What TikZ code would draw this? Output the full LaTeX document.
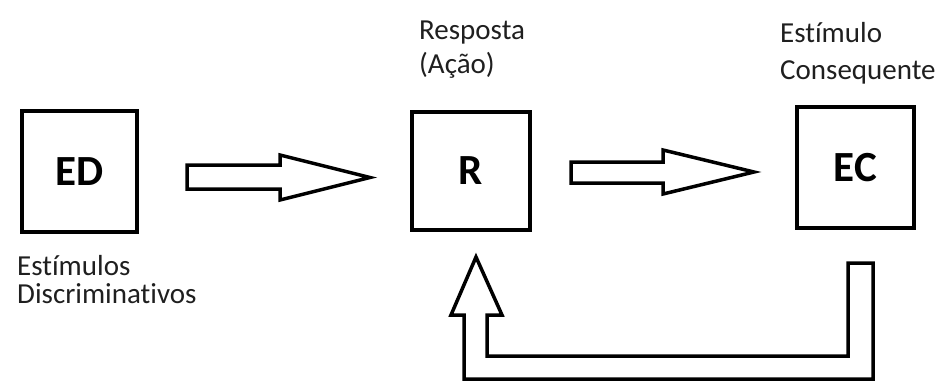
\documentclass[tikz,border=0pt]{standalone}
\usepackage{fontspec}
\setmainfont[Ligatures=NoCommon]{Carlito}
\begin{document}
\begin{tikzpicture}[x=1pt,y=-1pt,
  box/.style={draw=black,line width=4pt,minimum width=#1,inner sep=0pt,font=\fontsize{43}{50}\selectfont\bfseries},
  lbl/.style={anchor=base west,inner sep=0pt,text=black!88,font=\fontsize{29}{29}\selectfont},
  blockarrow/.style={draw=black,line width=3.5pt,line join=miter,fill=white}]
\useasboundingbox (0,0) rectangle (942,383);
\node[box=115pt,minimum height=121pt] (ED) at (79.5,171.5) {ED};
\node[box=118pt,minimum height=118pt] (R) at (471,171) {R};
\node[box=117pt,minimum height=121pt] (EC) at (855.5,167.5) {EC};
\node[lbl] (ed1) at (17,275) {Estímulos};
\node[lbl] (ed2) at (17,303) {Discriminativos};
\node[lbl] (r1) at (419,39) {Resposta};
\node[lbl] (r2) at (419,73) {(Ação)};
\node[lbl] (ec1) at (780,42) {Estímulo};
\node[lbl] (ec2) at (780,79) {Consequente};
\draw[blockarrow] (187,165) -- (280,165) -- (280,155) -- (370,177.5) -- (280,200) -- (280,189) -- (187,189) -- cycle;
\draw[blockarrow] (571,162) -- (663,162) -- (663,150) -- (754,172) -- (663,194) -- (663,183) -- (571,183) -- cycle;
\draw[blockarrow] (476,257) -- (502,315) -- (487,315) -- (487,356) -- (848,356) -- (848,263) -- (873,263) -- (873,379) -- (464,379) -- (464,315) -- (451,315) -- cycle;
\end{tikzpicture}
\end{document}
